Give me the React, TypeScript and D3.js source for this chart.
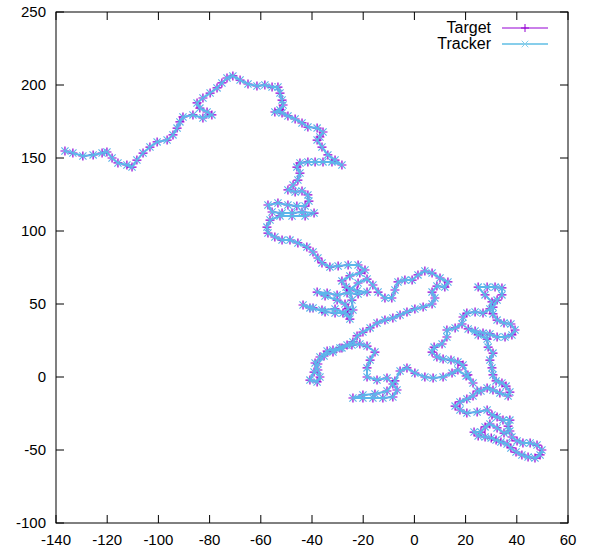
import * as d3 from 'd3';

const X_TICKS = [-140, -120, -100, -80, -60, -40, -20, 0, 20, 40, 60];
const Y_TICKS = [-100, -50, 0, 50, 100, 150, 200, 250];

const SERIES = ['Target', 'Tracker'];

// target trajectory (x, y)
const TARGET: [number, number][] = [
  [-136.5, 154.8], [-133.4, 153.4], [-129.5, 151.4], [-125.5, 152.1], [-122.0, 153.4], [-120.1, 154.1],
  [-118.1, 150.0], [-115.8, 146.6], [-112.3, 145.2], [-110.3, 143.8], [-108.4, 148.6], [-106.0, 153.4],
  [-103.3, 157.5], [-100.5, 161.0], [-96.6, 162.3], [-94.3, 165.8], [-92.7, 170.5], [-91.6, 174.7],
  [-90.4, 178.1], [-86.5, 179.5], [-82.6, 177.4], [-79.1, 179.5], [-81.0, 181.5], [-83.8, 184.2],
  [-84.9, 187.7], [-82.6, 191.1], [-79.8, 194.5], [-77.1, 198.0], [-75.2, 201.4], [-73.2, 204.8],
  [-70.9, 206.2], [-68.1, 203.4], [-65.0, 200.7], [-61.5, 199.3], [-58.4, 200.0], [-55.6, 198.6],
  [-53.3, 198.6], [-52.5, 194.5], [-51.7, 189.7], [-51.3, 186.3], [-52.5, 182.9], [-54.5, 181.5],
  [-51.7, 180.8], [-49.4, 178.8], [-46.6, 176.7], [-43.9, 174.0], [-41.6, 171.2], [-38.0, 170.5],
  [-35.7, 167.8], [-36.9, 164.4], [-38.0, 162.3], [-36.1, 157.5], [-33.8, 152.1], [-31.0, 148.6],
  [-28.3, 145.2], [-32.2, 147.3], [-35.7, 147.3], [-38.8, 147.3], [-41.6, 147.3], [-44.7, 146.6],
  [-45.9, 143.8], [-44.7, 139.7], [-45.5, 134.9], [-47.4, 131.5], [-49.4, 128.1], [-46.6, 126.7],
  [-43.9, 127.4], [-41.6, 124.7], [-41.2, 120.5], [-42.7, 117.1], [-45.9, 117.1], [-49.4, 117.8],
  [-53.3, 119.2], [-57.2, 117.8], [-55.6, 113.0], [-51.7, 112.3], [-47.8, 112.3], [-43.9, 113.0],
  [-39.2, 112.3], [-42.7, 110.3], [-47.8, 110.3], [-52.5, 110.3], [-56.4, 107.5], [-57.6, 102.7],
  [-57.2, 98.6], [-54.5, 95.9], [-51.7, 93.8], [-48.6, 93.8], [-45.5, 91.8], [-42.0, 89.0],
  [-39.6, 85.6], [-37.7, 81.5], [-36.1, 78.1], [-33.0, 75.3], [-29.8, 76.0], [-25.9, 76.7],
  [-22.0, 76.7], [-19.3, 73.3], [-21.3, 71.2], [-25.2, 69.2], [-28.3, 65.8], [-26.7, 61.6],
  [-22.4, 58.9], [-18.5, 58.2], [-22.0, 56.8], [-26.3, 57.5], [-30.2, 56.2], [-34.1, 57.5],
  [-38.0, 58.2], [-34.9, 55.5], [-30.2, 52.7], [-27.1, 50.0], [-25.9, 46.6], [-27.9, 43.8],
  [-31.0, 43.8], [-34.9, 44.5], [-39.6, 47.3], [-43.5, 49.3], [-40.8, 47.3], [-36.1, 45.9],
  [-31.0, 46.6], [-26.3, 43.2], [-25.2, 39.7], [-24.0, 45.9], [-24.4, 52.7], [-25.2, 59.6],
  [-22.0, 64.4], [-18.5, 67.1], [-16.2, 63.0], [-14.2, 58.2], [-11.5, 54.1], [-8.8, 54.1],
  [-7.6, 59.6], [-6.4, 65.1], [-3.7, 66.4], [-0.9, 66.4], [1.4, 69.9], [4.1, 72.6],
  [6.9, 71.2], [10.0, 67.8], [13.1, 65.1], [11.9, 61.6], [8.8, 62.3], [6.9, 58.2],
  [8.0, 54.1], [6.9, 50.0], [3.4, 47.9], [0.2, 46.6], [-2.9, 44.5], [-5.6, 42.5],
  [-8.4, 40.4], [-11.5, 39.0], [-14.6, 37.0], [-17.3, 33.6], [-20.1, 30.8], [-22.4, 28.1],
  [-24.0, 24.0], [-26.3, 21.9], [-29.1, 19.9], [-31.8, 18.5], [-34.1, 17.8], [-36.9, 13.7],
  [-38.8, 9.6], [-37.7, 4.8], [-36.9, 0.0], [-38.0, -3.4], [-40.8, -2.1], [-39.2, 3.4],
  [-37.7, 8.9], [-35.3, 14.4], [-31.8, 17.1], [-28.3, 19.9], [-24.4, 21.9], [-21.3, 22.6],
  [-18.5, 21.2], [-15.4, 17.1], [-17.3, 11.6], [-18.5, 6.2], [-18.5, 0.0], [-14.6, -2.1],
  [-10.7, -0.7], [-8.4, -4.8], [-6.8, -8.9], [-8.4, -13.7], [-12.3, -14.4], [-16.2, -14.4],
  [-20.1, -14.4], [-24.0, -14.4], [-20.1, -12.3], [-15.4, -11.6], [-10.7, -9.6], [-7.6, -2.7],
  [-5.6, 4.1], [-2.9, 6.2], [0.2, 2.7], [4.1, 0.0], [7.3, -0.7], [11.2, 0.0],
  [14.7, 2.7], [17.0, 4.8], [20.2, 0.7], [22.9, -4.1], [20.9, 1.4], [19.0, 8.2],
  [17.0, 10.3], [14.3, 11.6], [11.2, 12.3], [8.8, 13.7], [6.9, 17.1], [7.7, 20.5],
  [10.8, 22.6], [12.7, 27.4], [12.7, 32.2], [15.9, 33.6], [18.6, 36.3], [19.0, 41.1],
  [20.5, 43.8], [23.7, 44.5], [26.8, 43.8], [29.5, 46.6], [30.3, 51.4], [27.6, 56.2],
  [24.9, 61.6], [28.4, 61.6], [31.5, 61.6], [34.2, 61.0], [34.2, 56.2], [32.3, 52.7],
  [30.7, 47.9], [30.7, 43.2], [32.3, 39.0], [35.0, 37.0], [37.7, 36.3], [39.3, 32.2],
  [38.1, 28.8], [35.4, 27.4], [32.3, 27.4], [29.5, 29.5], [26.8, 30.1], [23.7, 31.5],
  [21.0, 32.9], [24.9, 28.8], [28.4, 26.0], [28.8, 20.5], [30.7, 16.4], [29.5, 11.6],
  [30.3, 6.2], [30.7, 1.4], [31.9, -2.7], [34.2, -4.1], [35.8, -6.2], [37.3, -10.3],
  [36.6, -13.0], [33.4, -11.0], [30.7, -8.9], [28.4, -7.5], [26.0, -9.6], [24.5, -9.6],
  [22.9, -13.0], [20.5, -15.1], [17.8, -17.1], [15.9, -19.9], [17.8, -22.6], [20.5, -24.7],
  [24.5, -24.0], [28.4, -22.6], [30.3, -26.0], [32.3, -27.4], [34.6, -29.5], [37.3, -29.5],
  [36.6, -33.6], [37.3, -37.0], [35.0, -38.4], [32.3, -34.9], [29.5, -32.2], [27.6, -34.2],
  [26.0, -37.7], [23.3, -37.7], [24.9, -40.4], [27.6, -41.1], [30.0, -41.8], [31.9, -43.2],
  [33.8, -44.5], [36.2, -45.9], [37.7, -48.6], [39.7, -51.4], [42.0, -53.4], [44.4, -54.8],
  [47.1, -55.5], [49.1, -53.4], [49.8, -50.0], [47.9, -46.6], [45.2, -45.2], [42.4, -45.2],
  [40.1, -43.8], [38.1, -41.1],
];

// the tracker sits on top of the target everywhere at this scale
const TRACKER = TARGET;

const W = 590;
const H = 550;
const margin = { top: 12, right: 22, bottom: 27, left: 56 };
const FONT = '"Liberation Sans", Arial, sans-serif';
const PURPLE = '#9400d3';
const BLUE = '#5db6ea';

const plus = (x: number, y: number, s = 4.5) => `M${x - s},${y}h${2 * s}M${x},${y - s}v${2 * s}`;
const cross = (x: number, y: number, s = 3.6) =>
  `M${x - s},${y - s}l${2 * s},${2 * s}M${x - s},${y + s}l${2 * s},${-2 * s}`;

export default function App() {
  const x = d3.scaleLinear().domain([-140, 60]).range([margin.left, W - margin.right]);
  const y = d3.scaleLinear().domain([-100, 250]).range([H - margin.bottom, margin.top]);
  const line = d3.line<[number, number]>().x((d) => x(d[0])).y((d) => y(d[1]));

  const x0 = margin.left;
  const x1 = W - margin.right;
  const y0 = margin.top;
  const y1 = H - margin.bottom;
  const tick = 8;

  const lx0 = 502;
  const lx1 = 548;
  const ly = [28, 44];

  return (
    <svg width={W} height={H} style={{ position: 'absolute', left: 0, top: 0, background: '#fff' }}>
      <g stroke="#000" strokeWidth={1}>
        {X_TICKS.map((t) => (
          <g key={'x' + t}>
            <line x1={x(t)} x2={x(t)} y1={y1} y2={y1 - tick} />
            <line x1={x(t)} x2={x(t)} y1={y0} y2={y0 + tick} />
          </g>
        ))}
        {Y_TICKS.map((t) => (
          <g key={'y' + t}>
            <line x1={x0} x2={x0 + tick} y1={y(t)} y2={y(t)} />
            <line x1={x1} x2={x1 - tick} y1={y(t)} y2={y(t)} />
          </g>
        ))}
      </g>
      <g fontFamily={FONT} fontSize={15} fill="#000">
        {X_TICKS.map((t) => (
          <text key={'xl' + t} x={x(t)} y={y1 + 22} textAnchor="middle">
            {t}
          </text>
        ))}
        {Y_TICKS.map((t) => (
          <text key={'yl' + t} x={x0 - 10} y={y(t) + 5} textAnchor="end">
            {t}
          </text>
        ))}
      </g>

      <path d={line(TARGET) ?? ''} fill="none" stroke={PURPLE} strokeWidth={1} />
      <path d={TARGET.map((d) => plus(x(d[0]), y(d[1]))).join('')} fill="none" stroke={PURPLE} strokeWidth={1.2} />
      <path d={line(TRACKER) ?? ''} fill="none" stroke={BLUE} strokeWidth={2} />
      <path d={TRACKER.map((d) => cross(x(d[0]), y(d[1]))).join('')} fill="none" stroke={BLUE} strokeWidth={1.2} />

      <g fontFamily={FONT} fontSize={16}>
        {SERIES.map((s, i) => (
          <g key={s}>
            <text x={491} y={ly[i] + 5} textAnchor="end">
              {s}
            </text>
            <line x1={lx0} x2={lx1} y1={ly[i]} y2={ly[i]} stroke={i === 0 ? PURPLE : '#87ceeb'} strokeWidth={i === 0 ? 1 : 2} />
            <path
              d={i === 0 ? plus((lx0 + lx1) / 2, ly[i], 4) : cross((lx0 + lx1) / 2, ly[i], 3.3)}
              stroke={i === 0 ? PURPLE : '#87ceeb'}
              strokeWidth={1}
            />
          </g>
        ))}
      </g>

      <rect x={x0} y={y0} width={x1 - x0} height={y1 - y0} fill="none" stroke="#000" strokeWidth={1} />
    </svg>
  );
}
